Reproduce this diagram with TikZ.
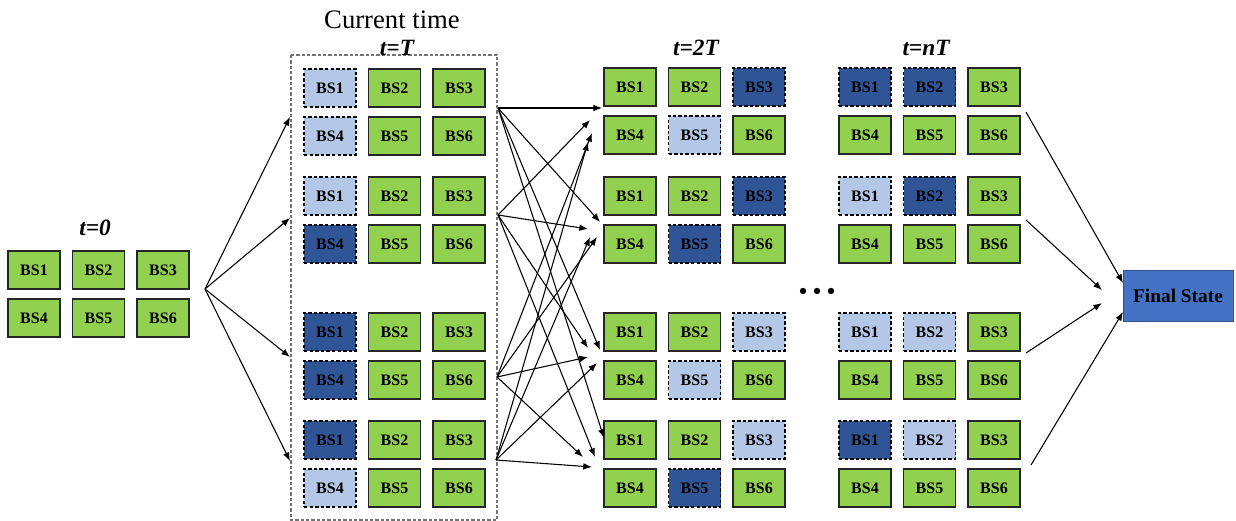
\documentclass[tikz,border=0pt]{standalone}
\usepackage{fontspec}
\setmainfont{Liberation Serif}
\usetikzlibrary{arrows.meta}
\definecolor{bsgreen}{HTML}{92D050}
\definecolor{bslight}{HTML}{B4C7E7}
\definecolor{bsdark}{HTML}{2F5597}
\definecolor{fsblue}{HTML}{4472C4}
\definecolor{fsborder}{HTML}{2F528F}
\newcommand\bsgroup[4]{\foreach \i/\s [count=\k from 0] in {#4}{%
  \pgfmathsetmacro\cx{#2+mod(\k,3)*64.5}%
  \pgfmathsetmacro\cy{#3+int(\k/3)*48}%
  \node[\s] (#1-\i) at (\cx,\cy) {BS\i};}}
\begin{document}
\begin{tikzpicture}[x=0.75pt,y=-0.75pt,
  bs/.style={minimum width=39pt,minimum height=28.5pt,inner sep=0pt,
    font=\fontsize{12}{13}\selectfont\bfseries,line width=0.9pt},
  gbox/.style={bs,fill=bsgreen,draw=black!85},
  lbox/.style={bs,fill=bslight,draw=black,dash pattern=on 2.6pt off 1.6pt},
  dbox/.style={bs,fill=bsdark,draw=black,dash pattern=on 2.6pt off 1.6pt},
  tlabel/.style={font=\fontsize{17.5}{20}\selectfont\bfseries\itshape},
  arr/.style={-{Latex[length=6.5pt,width=5pt]},line width=0.8pt},
  frame/.style={draw=black!55,line width=0.8pt,dash pattern=on 2.4pt off 1.6pt}]
\useasboundingbox (0,0) rectangle (1236,521);

% t = 0
\node[tlabel] (l0) at (95,228) {t=0};
\bsgroup{Z}{34}{270}{1/gbox,2/gbox,3/gbox,4/gbox,5/gbox,6/gbox}

% t = T
\draw[frame] (291,55) rectangle (497,520);
\node[font=\fontsize{20}{22}\selectfont] (cur) at (392,20) {Current time};
\node[tlabel] (l1) at (397,48) {t=T};
\bsgroup{A}{330}{88}{1/lbox,2/gbox,3/gbox,4/lbox,5/gbox,6/gbox}
\bsgroup{B}{330}{196}{1/lbox,2/gbox,3/gbox,4/dbox,5/gbox,6/gbox}
\bsgroup{C}{330}{332}{1/dbox,2/gbox,3/gbox,4/dbox,5/gbox,6/gbox}
\bsgroup{D}{330}{440}{1/dbox,2/gbox,3/gbox,4/lbox,5/gbox,6/gbox}

% t = 2T
\node[tlabel] (l2) at (696,48) {t=2T};
\bsgroup{E}{630}{87}{1/gbox,2/gbox,3/dbox,4/gbox,5/lbox,6/gbox}
\bsgroup{F}{630}{196}{1/gbox,2/gbox,3/dbox,4/gbox,5/dbox,6/gbox}
\bsgroup{G}{630}{332}{1/gbox,2/gbox,3/lbox,4/gbox,5/lbox,6/gbox}
\bsgroup{H}{630}{440}{1/gbox,2/gbox,3/lbox,4/gbox,5/dbox,6/gbox}

% t = nT
\node[tlabel] (l3) at (926,48) {t=nT};
\bsgroup{I}{865}{87}{1/dbox,2/dbox,3/gbox,4/gbox,5/gbox,6/gbox}
\bsgroup{J}{865}{196}{1/lbox,2/dbox,3/gbox,4/gbox,5/gbox,6/gbox}
\bsgroup{K}{865}{332}{1/lbox,2/lbox,3/gbox,4/gbox,5/gbox,6/gbox}
\bsgroup{L}{865}{440}{1/dbox,2/lbox,3/gbox,4/gbox,5/gbox,6/gbox}

% dots
\foreach \x [count=\n] in {803,817,831} \fill (\x,291) circle[radius=2.4pt];

% final state
\node[fill=fsblue,draw=fsborder,line width=0.6pt,minimum width=82.5pt,minimum height=38pt,
  font=\fontsize{14.5}{16}\selectfont\bfseries] (fin) at (1178,296) {Final State};

% arrows t=0 -> t=T
\coordinate (o) at (205,289);
\coordinate (pA) at (290,117);
\coordinate (pB) at (290,218);
\coordinate (pC) at (290,357);
\coordinate (pD) at (290,461);
\foreach \t in {pA,pB,pC,pD} \draw[arr] (o) -- (\t);

% arrows t=T -> t=2T
\coordinate (s1) at (498,108);
\coordinate (s2) at (498,215);
\coordinate (s3) at (497,377);
\coordinate (s4) at (496,460);
\coordinate (t11) at (602,108);
\coordinate (t12) at (600,222);
\coordinate (t13) at (600,350);
\coordinate (t14) at (604,438);
\coordinate (t21) at (590,120);
\coordinate (t22) at (588,229);
\coordinate (t23) at (588,348);
\coordinate (t24) at (595,457);
\coordinate (t31) at (592,133);
\coordinate (t32) at (597,237);
\coordinate (t33) at (588,357);
\coordinate (t34) at (583,457);
\coordinate (t41) at (588,142);
\coordinate (t42) at (590,237);
\coordinate (t43) at (597,363);
\coordinate (t44) at (592,467);
\foreach \a in {1,2,3,4}{\foreach \b in {1,2,3,4}{\draw[arr] (s\a) -- (t\a\b);}}

% arrows t=nT -> final
\coordinate (u1) at (1026,112);
\coordinate (u2) at (1026,220);
\coordinate (u3) at (1026,353);
\coordinate (u4) at (1031,465);
\coordinate (v1) at (1123,283);
\coordinate (v2) at (1102,290);
\coordinate (v3) at (1102,303);
\coordinate (v4) at (1123,312);
\foreach \a in {1,2,3,4} \draw[arr] (u\a) -- (v\a);
\end{tikzpicture}
\end{document}
